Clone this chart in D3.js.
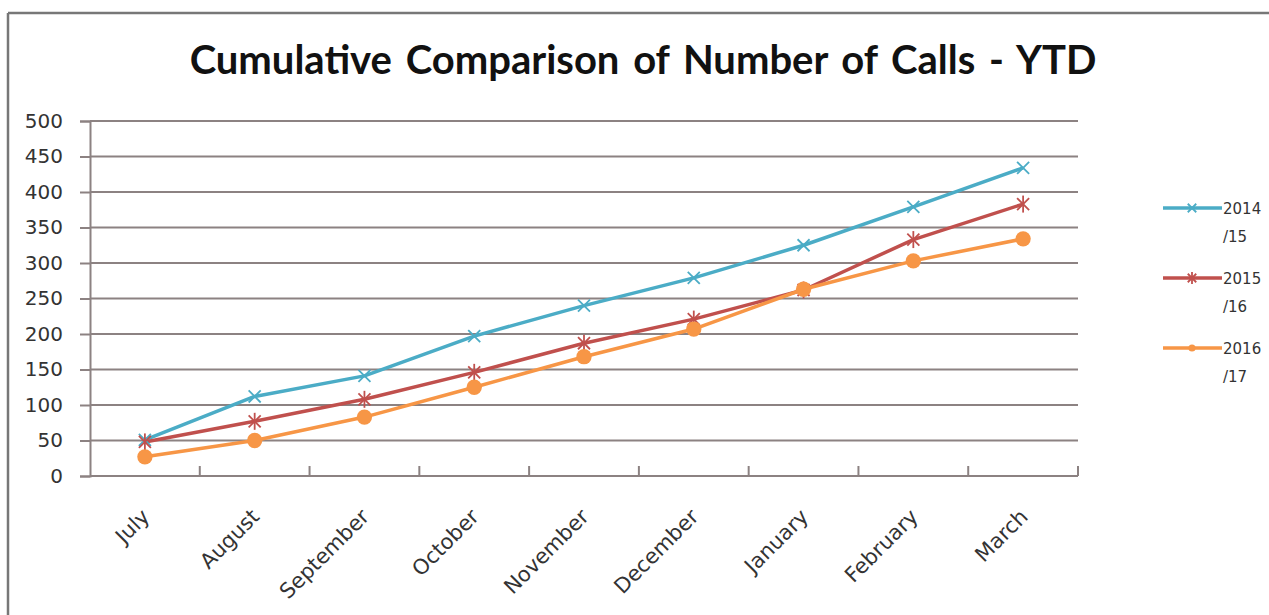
<!DOCTYPE html>
<html>
<head>
<meta charset="utf-8">
<script src="https://cdn.jsdelivr.net/npm/d3@7/dist/d3.min.js"></script>
<style>
  html, body { margin: 0; padding: 0; background: #fff; }
  svg { display: block; }
</style>
</head>
<body>
<svg id="chart" width="1269" height="615"></svg>
<script>
// Months of the financial year (July to March)
const months = ["July", "August", "September", "October", "November", "December", "January", "February", "March"];

// Cumulative number of calls per financial year
const calls201415 = [51, 112, 141, 197, 240, 279, 325, 379, 434];
const calls201516 = [48, 77, 108, 146, 187, 221, 262, 333, 383];
const calls201617 = [27, 50, 83, 125, 168, 207, 263, 303, 334];

const seriesNames = ["2014/15", "2015/16", "2016/17"];
const yTicks = [0, 50, 100, 150, 200, 250, 300, 350, 400, 450, 500];

const series = [
  { name: seriesNames[0], values: calls201415, color: "#4bacc6", marker: "x" },
  { name: seriesNames[1], values: calls201516, color: "#c0504d", marker: "star" },
  { name: seriesNames[2], values: calls201617, color: "#f79646", marker: "circle" }
];

const svg = d3.select("#chart");
const plot = { left: 90, right: 1078, top: 121, bottom: 476 };

// Outer frame (top and left edges)
svg.append("line").attr("x1", 8).attr("x2", 1269).attr("y1", 13).attr("y2", 13)
  .attr("stroke", "#777").attr("stroke-width", 2.5);
svg.append("line").attr("x1", 8).attr("x2", 8).attr("y1", 13).attr("y2", 615)
  .attr("stroke", "#777").attr("stroke-width", 2.5);

// Title
svg.append("text")
  .attr("x", 643).attr("y", 74)
  .attr("text-anchor", "middle")
  .attr("font-family", "Lato, 'Open Sans', sans-serif")
  .attr("font-weight", "bold")
  .attr("font-size", 40)
  .attr("word-spacing", 4)
  .attr("fill", "#111")
  .text("Cumulative Comparison of Number of Calls - YTD");

const x = d3.scaleBand().domain(months).range([plot.left, plot.right]);
const y = d3.scaleLinear().domain([0, 500]).range([plot.bottom, plot.top]);

const gridColor = "#8c8282";

// Horizontal gridlines
svg.append("g").selectAll("line").data(yTicks.filter(t => t > 0)).join("line")
  .attr("x1", plot.left).attr("x2", plot.right)
  .attr("y1", d => y(d)).attr("y2", d => y(d))
  .attr("stroke", gridColor).attr("stroke-width", 2);

// Y axis
const yAxis = svg.append("g")
  .attr("transform", `translate(${plot.left},0)`)
  .call(d3.axisLeft(y).tickValues(yTicks).tickSize(10).tickPadding(17));
yAxis.select(".domain").attr("stroke", gridColor).attr("stroke-width", 2);
yAxis.selectAll(".tick line").attr("stroke", gridColor).attr("stroke-width", 2);
yAxis.selectAll(".tick text")
  .attr("font-family", "'DejaVu Sans', sans-serif")
  .attr("font-size", 20)
  .attr("fill", "#333");

// X axis: line along zero with inward ticks at category boundaries
svg.append("line").attr("x1", plot.left).attr("x2", plot.right)
  .attr("y1", y(0)).attr("y2", y(0))
  .attr("stroke", gridColor).attr("stroke-width", 2);
svg.append("g").selectAll("line").data(months.slice(1)).join("line")
  .attr("x1", d => x(d)).attr("x2", d => x(d))
  .attr("y1", y(0)).attr("y2", y(0) - 10)
  .attr("stroke", gridColor).attr("stroke-width", 2);
svg.append("line").attr("x1", plot.right).attr("x2", plot.right)
  .attr("y1", y(0)).attr("y2", y(0) - 10)
  .attr("stroke", gridColor).attr("stroke-width", 2);

// Rotated month labels
svg.append("g").selectAll("text").data(months).join("text")
  .attr("transform", d => `translate(${x(d) + x.bandwidth() / 2 + 6},${y(0) + 42}) rotate(-45)`)
  .attr("text-anchor", "end")
  .attr("font-family", "'DejaVu Sans', sans-serif")
  .attr("font-size", 21)
  .attr("fill", "#333")
  .text(d => d);

const cx = d => x(d) + x.bandwidth() / 2;

// Lines
const line = d3.line().x((v, i) => cx(months[i])).y(v => y(v));
series.forEach(s => {
  svg.append("path").datum(s.values)
    .attr("d", line)
    .attr("fill", "none")
    .attr("stroke", s.color)
    .attr("stroke-width", 3.5)
    .attr("stroke-linejoin", "round");
});

// Markers
function drawMarker(g, type, color, px, py, r) {
  if (type === "circle") {
    g.append("circle").attr("cx", px).attr("cy", py).attr("r", r * 0.9).attr("fill", color);
  } else {
    const arms = type === "x" ? [45, 135] : [45, 135, 90];
    arms.forEach(a => {
      const rad = a * Math.PI / 180;
      g.append("line")
        .attr("x1", px - r * Math.cos(rad)).attr("y1", py - r * Math.sin(rad))
        .attr("x2", px + r * Math.cos(rad)).attr("y2", py + r * Math.sin(rad))
        .attr("stroke", color).attr("stroke-width", 1.8);
    });
  }
}
series.forEach(s => {
  const g = svg.append("g");
  s.values.forEach((v, i) => drawMarker(g, s.marker, s.color, cx(months[i]), y(v), 8.5));
});

// Legend
const legend = svg.append("g");
series.forEach((s, i) => {
  const ly = 208 + i * 70;
  legend.append("line").attr("x1", 1163).attr("x2", 1222).attr("y1", ly).attr("y2", ly)
    .attr("stroke", s.color).attr("stroke-width", 3.5);
  drawMarker(legend, s.marker, s.color, 1192, ly, s.marker === "circle" ? 4 : 6);
  const [a, b] = s.name.split("/");
  const t = legend.append("text")
    .attr("font-family", "'DejaVu Sans', sans-serif")
    .attr("font-size", 15)
    .attr("fill", "#333");
  t.append("tspan").attr("x", 1223).attr("y", ly + 6).text(a);
  t.append("tspan").attr("x", 1223).attr("y", ly + 34).text("/" + b);
});
</script>
</body>
</html>
